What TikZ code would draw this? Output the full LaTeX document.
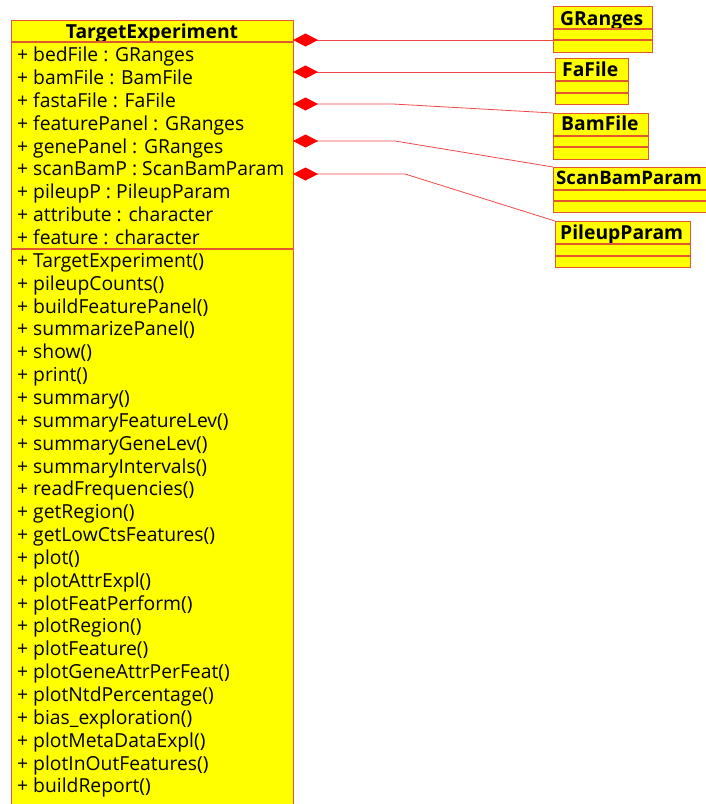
\documentclass[tikz,border=0pt]{standalone}
\usepackage{fontspec}
\setmainfont{Open Sans}
\usetikzlibrary{arrows.meta}
\definecolor{umlfill}{HTML}{FFFF00}
\definecolor{umlline}{HTML}{E2572C}
\definecolor{linkred}{HTML}{F04848}
\begin{document}
\begin{tikzpicture}[x=1pt,y=-1pt,
  cls/.style={draw=umlline,fill=umlfill,anchor=north west,inner sep=0pt,line width=1.1pt},
  sep/.style={draw=umlline,line width=1.1pt},
  attr/.style={anchor=base west,inner sep=0pt,font=\fontsize{19.3}{19.3}\selectfont},
  ttl/.style={anchor=base,inner sep=0pt,font=\fontsize{19.3}{19.3}\selectfont\bfseries},
  clsttl/.style={anchor=base west,inner sep=0pt,font=\fontsize{19.3}{19.3}\selectfont\bfseries},
  comp/.style={draw=linkred,line width=0.8pt,-{Diamond[length=25pt,width=13pt,color=red,fill=red]}}]
\path[use as bounding box] (0,0) rectangle (706,804);

% main class
\node[cls,minimum width=282,minimum height=790] (te) at (11,20) {};
\node[ttl] (tename) at (152,38.3) {TargetExperiment};
\path[sep] (11,42) -- (293,42);
\path[sep] (11,249) -- (293,249);

% attributes
\node[attr] (a1) at (17,61.7) {+ bedFile : GRanges};
\node[attr] (a2) at (17,84.55) {+ bamFile : BamFile};
\node[attr] (a3) at (17,107.4) {+ fastaFile : FaFile};
\node[attr] (a4) at (17,130.25) {+ featurePanel : GRanges};
\node[attr] (a5) at (17,153.1) {+ genePanel : GRanges};
\node[attr] (a6) at (17,175.95) {+ scanBamP : ScanBamParam};
\node[attr] (a7) at (17,198.8) {+ pileupP : PileupParam};
\node[attr] (a8) at (17,221.65) {+ attribute : character};
\node[attr] (a9) at (17,244.5) {+ feature : character};

% methods
\node[attr] (m1) at (17,267.35) {+ TargetExperiment()};
\node[attr] (m2) at (17,290.2) {+ pileupCounts()};
\node[attr] (m3) at (17,313.05) {+ buildFeaturePanel()};
\node[attr] (m4) at (17,335.9) {+ summarizePanel()};
\node[attr] (m5) at (17,358.75) {+ show()};
\node[attr] (m6) at (17,381.6) {+ print()};
\node[attr] (m7) at (17,404.45) {+ summary()};
\node[attr] (m8) at (17,427.3) {+ summaryFeatureLev()};
\node[attr] (m9) at (17,450.15) {+ summaryGeneLev()};
\node[attr] (m10) at (17,473.0) {+ summaryIntervals()};
\node[attr] (m11) at (17,495.85) {+ readFrequencies()};
\node[attr] (m12) at (17,518.7) {+ getRegion()};
\node[attr] (m13) at (17,541.55) {+ getLowCtsFeatures()};
\node[attr] (m14) at (17,564.4) {+ plot()};
\node[attr] (m15) at (17,587.25) {+ plotAttrExpl()};
\node[attr] (m16) at (17,610.1) {+ plotFeatPerform()};
\node[attr] (m17) at (17,632.95) {+ plotRegion()};
\node[attr] (m18) at (17,655.8) {+ plotFeature()};
\node[attr] (m19) at (17,678.65) {+ plotGeneAttrPerFeat()};
\node[attr] (m20) at (17,701.5) {+ plotNtdPercentage()};
\node[attr] (m21) at (17,724.35) {+ bias\_exploration()};
\node[attr] (m22) at (17,747.2) {+ plotMetaDataExpl()};
\node[attr] (m23) at (17,770.05) {+ plotInOutFeatures()};
\node[attr] (m24) at (17,792.9) {+ buildReport()};

% member classes
\node[cls,minimum width=99,minimum height=46] (gr) at (553,6) {};
\node[clsttl] (grname) at (560,25) {GRanges};
\path[sep] (553,29) -- (652,29);
\path[sep] (553,40) -- (652,40);

\node[cls,minimum width=73,minimum height=46] (fa) at (555,58) {};
\node[clsttl] (faname) at (562,76) {FaFile};
\path[sep] (555,81) -- (628,81);
\path[sep] (555,93) -- (628,93);

\node[cls,minimum width=95,minimum height=46] (bam) at (553,113) {};
\node[clsttl] (bamname) at (561,130) {BamFile};
\path[sep] (553,136) -- (648,136);
\path[sep] (553,147) -- (648,147);

\node[cls,minimum width=160,minimum height=45] (scan) at (553,167) {};
\node[clsttl,font=\fontsize{18.6}{18.6}\selectfont\bfseries] (scanname) at (556,184) {ScanBamParam};
\path[sep] (553,190) -- (713,190);
\path[sep] (553,201) -- (713,201);

\node[cls,minimum width=135,minimum height=46] (pile) at (555,221) {};
\node[clsttl] (pilename) at (560,239) {PileupParam};
\path[sep] (555,244) -- (690,244);
\path[sep] (555,256) -- (690,256);

% compositions
\coordinate (d1) at (293,40);
\coordinate (d2) at (293,72);
\coordinate (d3) at (293,104);
\coordinate (d4) at (293,141);
\coordinate (d5) at (293,174);
\coordinate (k3) at (393,104);
\coordinate (k4) at (395,141);
\coordinate (k5) at (405,174);
\draw[comp] (gr.west |- d1) -- (d1);
\draw[comp] (fa.west |- d2) -- (d2);
\draw[comp] (bam.north west) -- (k3) -- (d3);
\draw[comp] (scan.north west) -- (k4) -- (d4);
\draw[comp] (pile.north west) -- (k5) -- (d5);
\end{tikzpicture}
\end{document}
